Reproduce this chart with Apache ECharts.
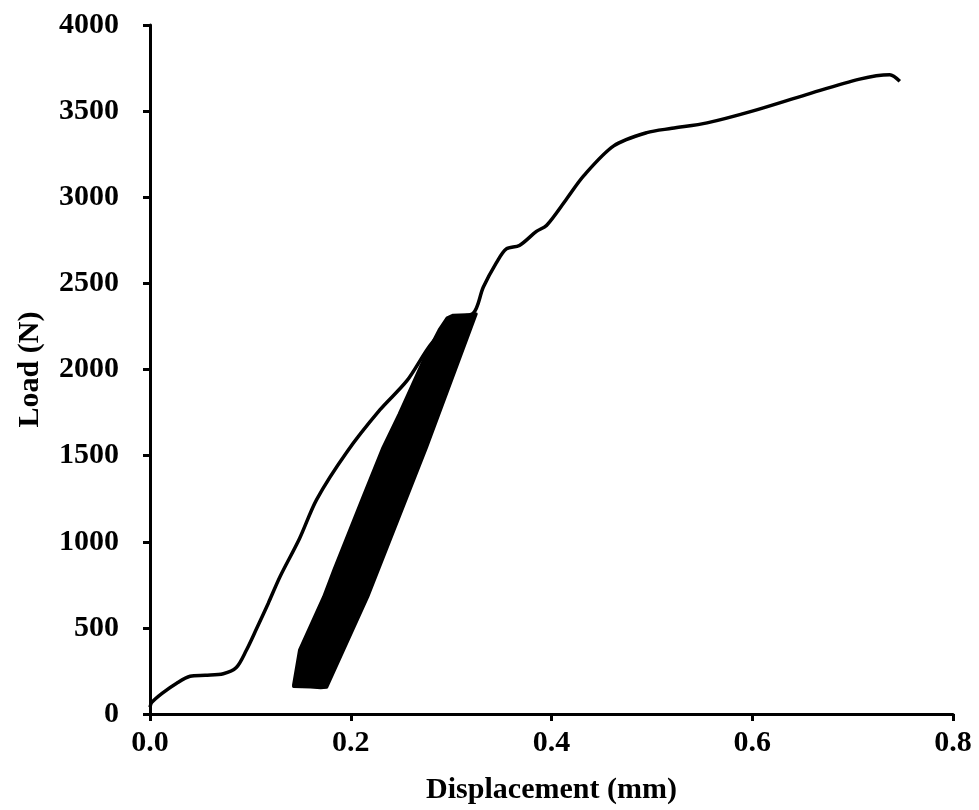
<!DOCTYPE html>
<html>
<head>
<meta charset="utf-8">
<script src="https://cdn.jsdelivr.net/npm/echarts@6/dist/echarts.min.js"></script>
<style>html,body{margin:0;padding:0;background:#fff}#c{width:979px;height:810px}</style>
</head>
<body>
<div id="c"></div>
<script>
// Monotonic loading curve: [displacement (mm), load (N)]
var loadCurve = [
  [0,40],[0.0017,67],[0.012,120],[0.0266,179],[0.040,219],[0.055,225],[0.073,234],
  [0.086,270],[0.096,370],[0.106,493],[0.118,645],[0.1295,797],[0.149,1019],
  [0.166,1245],[0.196,1520],[0.229,1765],[0.256,1935],[0.277,2124],[0.293,2240],
  [0.300,2300],[0.322,2326],[0.332,2477],[0.345,2619],[0.355,2700],[0.368,2720],
  [0.385,2802],[0.395,2836],[0.415,2990],[0.432,3124],[0.462,3298],[0.495,3375],
  [0.520,3400],[0.555,3432],[0.600,3500],[0.654,3596],[0.707,3686],[0.737,3711],[0.747,3673]
];
// Outline of the cyclic-loading (hysteresis) band: [displacement (mm), load (N)]
var cycleBand = [
  [0.143,168],[0.149,373],[0.173,681],[0.183,835],[0.212,1258],[0.232,1547],
  [0.248,1740],[0.272,2049],[0.288,2230],[0.296,2300],[0.302,2315],[0.322,2320],
  [0.325,2322],[0.2755,1547],[0.217,681],[0.176,155],[0.170,152],[0.160,157],[0.143,160]
];
var xTicks = {min:0, max:0.8, interval:0.2};
var yTicks = {min:0, max:4000, interval:500};

var chart = echarts.init(document.getElementById('c'));
var font = '"Liberation Serif","Times New Roman",serif';
chart.setOption({
  animation:false,
  backgroundColor:'#fff',
  grid:{left:150, right:26, top:25, bottom:92},
  xAxis:{
    type:'value', min:xTicks.min, max:xTicks.max, interval:xTicks.interval,
    name:'Displacement (mm)', nameLocation:'middle', nameGap:61,
    nameTextStyle:{fontFamily:font, fontWeight:'bold', fontSize:30, color:'#000'},
    axisLine:{show:true, lineStyle:{color:'#000', width:3}},
    axisTick:{show:true, inside:false, length:7, lineStyle:{color:'#000', width:3}},
    axisLabel:{fontFamily:font, fontWeight:'bold', fontSize:30, color:'#000', margin:14,
      formatter:function(v){return v.toFixed(1);}},
    splitLine:{show:false}
  },
  yAxis:{
    type:'value', min:yTicks.min, max:yTicks.max, interval:yTicks.interval,
    name:'Load (N)', nameLocation:'middle', nameGap:105, nameRotate:90,
    nameTextStyle:{fontFamily:font, fontWeight:'bold', fontSize:30, color:'#000'},
    axisLine:{show:true, lineStyle:{color:'#000', width:3}},
    axisTick:{show:true, inside:false, length:7, lineStyle:{color:'#000', width:3}},
    axisLabel:{fontFamily:font, fontWeight:'bold', fontSize:30, color:'#000', margin:31,
      formatter:function(v){return String(v);}},
    splitLine:{show:false}
  },
  series:[
    {
      type:'custom',
      data:[0],
      clip:true,
      renderItem:function(params, api){
        var pts = cycleBand.map(function(p){return api.coord(p);});
        return {type:'polygon', shape:{points:pts, smooth:0},
          style:{fill:'#000', stroke:'#000', lineWidth:3, lineJoin:'round'}};
      },
      silent:true, z:2
    },
    {
      type:'line', data:loadCurve, showSymbol:false, smooth:0.3,
      lineStyle:{color:'#000', width:3.5}, z:3, silent:true
    }
  ]
});
</script>
</body>
</html>
